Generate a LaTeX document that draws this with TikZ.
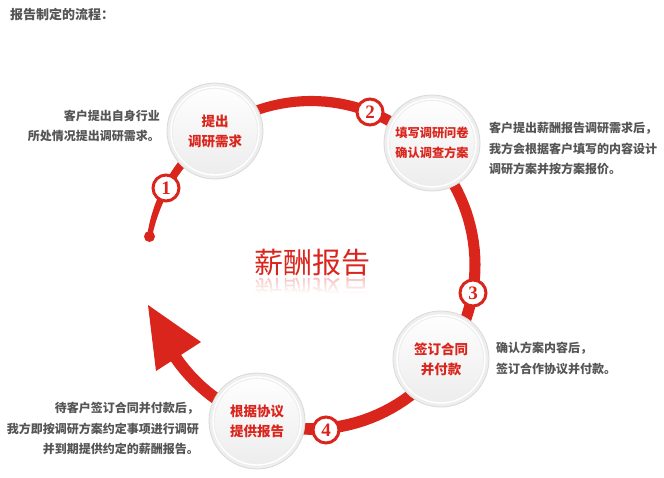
\documentclass[tikz,border=0pt]{standalone}
\usepackage{fontspec}
\newfontfamily\cjk{Noto Sans CJK SC}
\newfontfamily\numfont{Liberation Serif}
\definecolor{rred}{RGB}{218,37,29}
\definecolor{tgray}{RGB}{85,85,85}
\begin{document}
\begin{tikzpicture}[x=1pt,y=-1pt,
  declare function={wd(\t)=10+2*(\t+170)/315.6-5*exp(-(\t+170)/30);},
  ball/.style={circle, minimum size=96pt, inner sep=0pt, fill=gray!13, draw=gray!30, line width=0.8pt,
    path picture={\shade[top color=white, bottom color=gray!15] (path picture bounding box.center) circle (42pt);
      \draw[white, line width=1.4pt] (path picture bounding box.center) circle (44pt);},
    font=\cjk\bfseries\fontsize{13.5}{20}\selectfont, text=rred, align=center},
  badge/.style={circle, minimum size=26pt, inner sep=0pt, fill=white, draw=rred, line width=3pt,
    font=\numfont\bfseries\fontsize{19}{19}\selectfont, text=rred},
  desc/.style={font=\cjk\bfseries\fontsize{12}{20.5}\selectfont, text=tgray, inner sep=0pt}]
\useasboundingbox (0,0) rectangle (664,477);
\fill[white] (0,0) rectangle (664,477);

% title
\node[desc, anchor=west, font=\cjk\bfseries\fontsize{13}{15}\selectfont] (title) at (10,15) {报告制定的流程：};

% ring (tapering band)
\fill[rred] plot[domain=-170:145.6, samples=120] ({311+(164+wd(\x)/2)*cos(\x)}, {265+(164+wd(\x)/2)*sin(\x)})
  -- plot[domain=145.6:-170, samples=120] ({311+(164-wd(\x)/2)*cos(\x)}, {265+(164-wd(\x)/2)*sin(\x)}) -- cycle;
\coordinate (start) at (149.5,236.5);
\fill[rred] (start) circle (5.5pt);
% arrowhead
\coordinate (tip) at (148,305);
\coordinate (w1) at (201,342);
\coordinate (w2) at (156,371);
\fill[rred] (tip) -- (w1) -- (w2) -- cycle;

% centre title with reflection
\node[font=\cjk\fontsize{29}{29}\selectfont, text=rred, inner sep=0pt] (main) at (312,263) {薪酬报告};
\node[font=\cjk\fontsize{29}{29}\selectfont, text=rred!35, inner sep=0pt, yscale=-1] (refl) at (312,291) {薪酬报告};
\foreach \i in {0,...,7}{
  \fill[white, opacity=0.25+\i*0.1] (248,{277.5+2*\i}) rectangle (378,{279.5+2*\i});
}
\fill[white] (248,293.5) rectangle (378,312);

% balls
\node[ball] (c1) at (215,131) {提出\\调研需求};
\node[ball, font=\cjk\bfseries\fontsize{12.2}{20}\selectfont] (c2) at (432,143) {填写调研问卷\\确认调查方案};
\node[ball] (c3) at (441,359) {签订合同\\并付款};
\node[ball] (c4) at (257,421) {根据协议\\提供报告};

% badges
\node[badge] (b1) at (166,188) {1};
\node[badge] (b2) at (370,112) {2};
\node[badge] (b3) at (473,293) {3};
\node[badge] (b4) at (326,430) {4};

% descriptions
\node[desc, anchor=east, align=right] (d1) at (160,126) {客户提出自身行业\\所处情况提出调研需求。};
\node[desc, anchor=west, align=left] (d2) at (489,148.5) {客户提出薪酬报告调研需求后，\\我方会根据客户填写的内容设计\\调研方案并按方案报价。};
\node[desc, anchor=west, align=left] (d3) at (496,358.5) {确认方案内容后，\\签订合作协议并付款。};
\node[desc, anchor=east, align=right] (d4) at (199,428.5) {待客户签订合同并付款后，\\我方即按调研方案约定事项进行调研\\并到期提供约定的薪酬报告。};
\end{tikzpicture}
\end{document}
